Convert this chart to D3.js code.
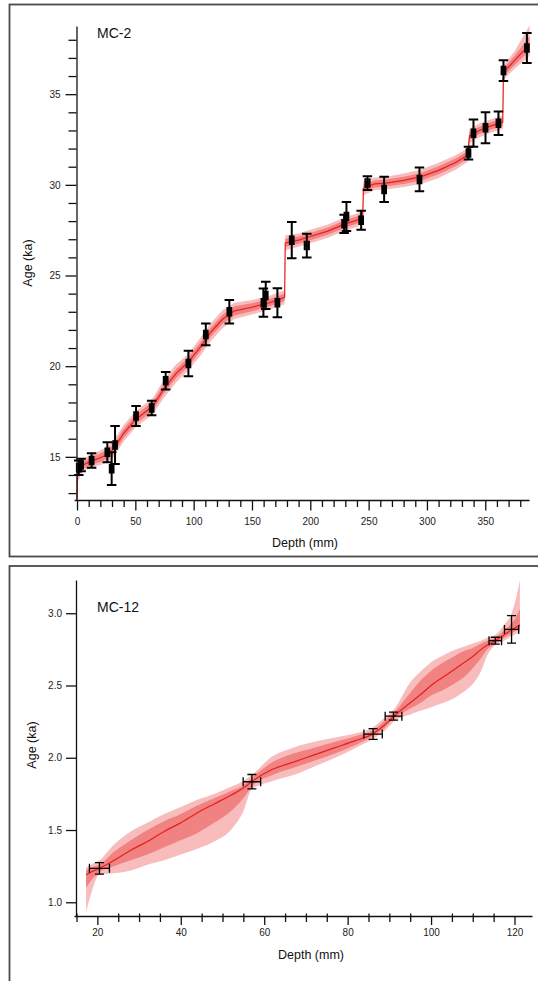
<!DOCTYPE html>
<html>
<head>
<meta charset="utf-8">
<script src="https://cdn.jsdelivr.net/npm/d3@7"></script>
<style>
  body { margin: 0; background: #fff; }
  svg { display: block; font-family: "Liberation Sans", Arial, Helvetica, sans-serif; }
</style>
</head>
<body>
<svg id="chart" width="538" height="981"></svg>
<script>
// --- MC-2 : dated samples ---
const mc2Depth    = [1.5, 3.5, 12.5, 26, 29.7, 32.6, 50.6, 64, 76, 95.5, 110.4, 130.6, 159.8, 161.8, 171.8, 184.1, 197, 229, 231, 243.6, 249, 263.3, 293.6, 335.6, 339.9, 350.2, 361.3, 365.6, 385.7];
const mc2DepthErr = [1.6, 1.6, 1.6, 1.6, 1.6, 1.6, 1.6, 1.6, 1.6, 1.6, 1.6, 1.6, 1.6, 1.6, 1.6, 1.6, 1.8, 1.6, 1.6, 1.6, 1.8, 1.6, 1.6, 1.6, 1.6, 1.6, 1.6, 1.6, 1.6];
const mc2Age      = [14.40, 14.55, 14.80, 15.25, 14.35, 15.65, 17.25, 17.70, 19.20, 20.15, 21.75, 23.00, 23.50, 23.90, 23.50, 26.95, 26.65, 27.85, 28.25, 28.05, 30.10, 29.75, 30.30, 31.75, 32.85, 33.15, 33.40, 36.30, 37.55];
const mc2AgeErr   = [0.40, 0.35, 0.40, 0.55, 0.90, 1.05, 0.55, 0.40, 0.48, 0.70, 0.60, 0.65, 0.78, 0.75, 0.80, 1.00, 0.65, 0.50, 0.80, 0.52, 0.38, 0.70, 0.66, 0.35, 0.75, 0.85, 0.65, 0.57, 0.83];

// --- MC-2 : age-depth model (median + 68% / 95% envelopes) ---
const mc2ModelDepth = [0, 0.5, 5, 12, 20, 27, 32, 40, 50, 58, 65, 75, 85, 95, 105, 115, 125, 135, 150, 165, 178, 178.5, 190, 200, 215, 230, 240, 245, 245.5, 255, 265, 280, 295, 310, 325, 335, 336.5, 345, 355, 365, 365.6, 375, 388];
const mc2Median = [12.65, 14.40, 14.55, 14.75, 14.95, 15.15, 15.50, 16.30, 17.05, 17.45, 17.80, 18.80, 19.60, 20.20, 21.00, 21.90, 22.60, 23.05, 23.25, 23.50, 23.80, 26.80, 26.95, 27.15, 27.45, 27.85, 28.05, 28.30, 29.80, 30.05, 30.10, 30.25, 30.45, 30.80, 31.25, 31.65, 32.70, 33.00, 33.25, 33.45, 36.20, 36.85, 37.75];
const mc2Lo95   = [12.62, 13.60, 14.20, 14.40, 14.55, 14.75, 15.05, 15.85, 16.60, 17.00, 17.35, 18.30, 19.10, 19.75, 20.50, 21.40, 22.10, 22.60, 22.85, 23.12, 23.42, 26.40, 26.58, 26.78, 27.08, 27.48, 27.68, 27.92, 29.42, 29.70, 29.75, 29.88, 30.05, 30.38, 30.85, 31.28, 32.30, 32.62, 32.88, 33.08, 35.80, 36.40, 37.10];
const mc2Lo68   = [12.63, 14.00, 14.35, 14.55, 14.72, 14.92, 15.25, 16.05, 16.80, 17.20, 17.55, 18.55, 19.35, 19.95, 20.75, 21.65, 22.35, 22.80, 23.03, 23.30, 23.60, 26.58, 26.75, 26.95, 27.25, 27.65, 27.85, 28.10, 29.60, 29.86, 29.91, 30.05, 30.24, 30.58, 31.04, 31.45, 32.48, 32.80, 33.05, 33.25, 35.98, 36.60, 37.40];
const mc2Hi68   = [12.70, 14.65, 14.75, 14.95, 15.18, 15.40, 15.75, 16.55, 17.30, 17.70, 18.05, 19.05, 19.85, 20.45, 21.25, 22.15, 22.85, 23.30, 23.47, 23.70, 24.00, 27.02, 27.15, 27.35, 27.65, 28.05, 28.25, 28.50, 30.00, 30.24, 30.29, 30.45, 30.66, 31.02, 31.46, 31.85, 32.92, 33.20, 33.45, 33.65, 36.42, 37.10, 38.20];
const mc2Hi95   = [12.75, 14.85, 14.90, 15.10, 15.35, 15.60, 15.95, 16.75, 17.50, 17.90, 18.25, 19.30, 20.10, 20.65, 21.50, 22.40, 23.10, 23.50, 23.65, 23.88, 24.18, 27.20, 27.32, 27.52, 27.82, 28.22, 28.42, 28.68, 30.18, 30.40, 30.45, 30.62, 30.85, 31.22, 31.65, 32.02, 33.10, 33.38, 33.62, 33.82, 36.60, 37.35, 38.80];

// --- MC-12 : dated samples ---
const mc12Depth    = [20.5, 57.05, 86.1, 91.0, 115.4, 119.3];
const mc12DepthErr = [2.4, 2.1, 2.2, 2.0, 1.5, 1.7];
const mc12Age      = [1.235, 1.834, 2.164, 2.288, 2.81, 2.888];
const mc12AgeErr   = [0.04, 0.05, 0.037, 0.028, 0.024, 0.095];

// --- MC-12 : age-depth model ---
const mc12ModelDepth = [17.3, 18.5, 20.5, 24, 28, 32, 36, 40, 44, 48, 52, 55, 57, 62, 67, 72, 77, 82, 86, 89, 91, 95, 98, 100, 103, 106, 108, 110, 112, 113.5, 115.4, 117.5, 119.3, 120.5, 121.3];
const mc12Median = [1.19, 1.21, 1.235, 1.29, 1.36, 1.42, 1.49, 1.55, 1.62, 1.68, 1.74, 1.79, 1.835, 1.92, 1.97, 2.02, 2.07, 2.12, 2.165, 2.23, 2.285, 2.38, 2.45, 2.50, 2.56, 2.62, 2.66, 2.70, 2.75, 2.78, 2.81, 2.85, 2.885, 2.905, 2.92];
const mc12Lo95   = [0.93, 1.06, 1.19, 1.20, 1.22, 1.26, 1.29, 1.33, 1.37, 1.42, 1.50, 1.63, 1.78, 1.84, 1.88, 1.94, 2.00, 2.07, 2.13, 2.19, 2.25, 2.30, 2.33, 2.35, 2.38, 2.42, 2.46, 2.51, 2.60, 2.71, 2.78, 2.81, 2.84, 2.86, 2.87];
const mc12Lo68   = [1.10, 1.15, 1.21, 1.25, 1.29, 1.33, 1.38, 1.43, 1.48, 1.55, 1.63, 1.72, 1.80, 1.88, 1.93, 1.98, 2.03, 2.09, 2.15, 2.21, 2.27, 2.34, 2.39, 2.43, 2.47, 2.52, 2.56, 2.62, 2.69, 2.75, 2.79, 2.83, 2.86, 2.88, 2.89];
const mc12Hi68   = [1.22, 1.24, 1.26, 1.35, 1.43, 1.50, 1.56, 1.61, 1.67, 1.72, 1.77, 1.81, 1.86, 1.97, 2.03, 2.07, 2.11, 2.15, 2.19, 2.26, 2.31, 2.45, 2.55, 2.60, 2.66, 2.71, 2.74, 2.76, 2.79, 2.81, 2.83, 2.88, 2.93, 2.98, 3.03];
const mc12Hi95   = [1.24, 1.26, 1.29, 1.40, 1.49, 1.55, 1.61, 1.66, 1.71, 1.75, 1.80, 1.84, 1.88, 2.01, 2.07, 2.11, 2.14, 2.17, 2.21, 2.28, 2.33, 2.52, 2.61, 2.66, 2.71, 2.75, 2.77, 2.79, 2.81, 2.83, 2.85, 2.92, 3.00, 3.12, 3.23];

// --- tick values ---
const mc2XMajor = [0, 50, 100, 150, 200, 250, 300, 350];
const mc2XMinor = d3.range(10, 390, 10).filter(v => v % 50 !== 0);
const mc2YMajor = [15, 20, 25, 30, 35];
const mc2YMinor = d3.range(13, 39, 1).filter(v => v % 5 !== 0);
const mc12XMajor = [20, 40, 60, 80, 100, 120];
const mc12XMinor = d3.range(15, 125, 5).filter(v => v % 20 !== 0);
const mc12YMajor = [1.0, 1.5, 2.0, 2.5, 3.0];

const OUTER = "#f8bcbc", INNER = "#f08282", LINE = "#ec1c1c";

const svg = d3.select("#chart");

// panel frames
svg.append("rect").attr("x", 9.5).attr("y", 4.5).attr("width", 540).attr("height", 552)
  .attr("fill", "none").attr("stroke", "#4a4a4a").attr("stroke-width", 1.8);
svg.append("rect").attr("x", 9.5).attr("y", 566).attr("width", 540).attr("height", 430)
  .attr("fill", "none").attr("stroke", "#4a4a4a").attr("stroke-width", 1.8);

function drawPanel(p) {
  const g = svg.append("g");
  const { x, y } = p;
  const rows = p.modelDepth.map((d, i) => ({
    d, m: p.median[i], lo95: p.lo95[i], hi95: p.hi95[i], lo68: p.lo68[i], hi68: p.hi68[i]
  }));

  g.append("path").datum(rows).attr("fill", OUTER)
    .attr("d", d3.area().curve(p.curve).x(r => x(r.d)).y0(r => y(r.lo95)).y1(r => y(r.hi95)));
  g.append("path").datum(rows).attr("fill", INNER)
    .attr("d", d3.area().curve(p.curve).x(r => x(r.d)).y0(r => y(r.lo68)).y1(r => y(r.hi68)));
  g.append("path").datum(rows).attr("fill", "none").attr("stroke", LINE).attr("stroke-width", 1.2)
    .attr("d", d3.line().curve(p.curve).x(r => x(r.d)).y(r => y(r.m)));

  // error bars (age and depth, capped)
  const pts = p.depth.map((d, i) => ({ d, de: p.depthErr[i], a: p.age[i], ae: p.ageErr[i] }));
  const eb = g.append("g").attr("stroke", "#000").attr("stroke-width", p.ebWidth).attr("fill", "none");
  const cap = p.cap;
  pts.forEach(q => {
    const cx = x(q.d), cy = y(q.a);
    const x0 = x(q.d - q.de), x1 = x(q.d + q.de);
    const y0 = y(q.a - q.ae), y1 = y(q.a + q.ae);
    eb.append("path").attr("d",
      `M${cx},${y0}V${y1}` +
      `M${cx - cap / 2},${y0}H${cx + cap / 2}M${cx - cap / 2},${y1}H${cx + cap / 2}` +
      `M${x0},${cy}H${x1}` +
      `M${x0},${cy - cap / 2}V${cy + cap / 2}M${x1},${cy - cap / 2}V${cy + cap / 2}`);
  });

  // axes
  const xAxisY = y.range()[0];
  g.append("g").attr("transform", `translate(0,${xAxisY})`)
    .call(d3.axisBottom(x).tickValues(p.xMajor).tickSize(p.xMajorLen).tickSizeOuter(0).tickPadding(p.xPad));
  const xm = g.append("g").attr("transform", `translate(0,${xAxisY})`)
    .call(d3.axisBottom(x).tickValues(p.xMinor).tickSize(p.xMinorLen).tickFormat(""));
  xm.select(".domain").remove();
  if (p.xMinorUp) xm.selectAll(".tick line").attr("y1", -p.xMinorUp);

  g.append("g").attr("transform", `translate(${p.yAxisX},0)`)
    .call(d3.axisLeft(y).tickValues(p.yMajor).tickSize(p.yMajorLen).tickSizeOuter(0).tickPadding(p.yPad).tickFormat(p.yFormat));
  if (p.yMinor) {
    const ym = g.append("g").attr("transform", `translate(${p.yAxisX},0)`)
      .call(d3.axisLeft(y).tickValues(p.yMinor).tickSize(p.yMinorLen).tickFormat(""));
    ym.select(".domain").remove();
  }
  g.selectAll(".domain, .tick line").attr("stroke", "#111").attr("stroke-width", 1.3);
  g.selectAll(".tick text").attr("font-size", 10).attr("fill", "#222")
    .attr("font-family", "'Liberation Sans', Arial, sans-serif");

  // labels
  g.append("text").attr("x", p.xTitle[0]).attr("y", p.xTitle[1]).attr("text-anchor", "middle")
    .attr("font-size", 12.5).attr("fill", "#111").text("Depth (mm)");
  g.append("text").attr("transform", `translate(${p.yTitle[0]},${p.yTitle[1]}) rotate(-90)`)
    .attr("text-anchor", "middle").attr("font-size", 12.5).attr("fill", "#111").text("Age (ka)");
  g.append("text").attr("x", 97).attr("y", p.nameY).attr("font-size", 14).attr("fill", "#111").text(p.name);
}

drawPanel({
  name: "MC-2", nameY: 38,
  x: d3.scaleLinear().domain([-2.5, 387.5]).range([74.1, 529]),
  y: d3.scaleLinear().domain([12.62, 38.76]).range([500, 26]),
  modelDepth: mc2ModelDepth, median: mc2Median, lo95: mc2Lo95, hi95: mc2Hi95, lo68: mc2Lo68, hi68: mc2Hi68,
  depth: mc2Depth, depthErr: mc2DepthErr, age: mc2Age, ageErr: mc2AgeErr,
  curve: d3.curveLinear, ebWidth: 2, cap: 9.5,
  xMajor: mc2XMajor, xMinor: mc2XMinor, xMajorLen: 10.5, xMinorLen: 7, xPad: 7, xMinorUp: 0,
  yMajor: mc2YMajor, yMinor: mc2YMinor, yMajorLen: 11, yMinorLen: 8, yPad: 5, yAxisX: 76.5,
  yFormat: d3.format("d"),
  xTitle: [305, 547], yTitle: [32, 263]
});

drawPanel({
  name: "MC-12", nameY: 612,
  x: d3.scaleLinear().domain([14.4, 124.2]).range([74, 532]),
  y: d3.scaleLinear().domain([0.905, 3.23]).range([916, 580]),
  modelDepth: mc12ModelDepth, median: mc12Median, lo95: mc12Lo95, hi95: mc12Hi95, lo68: mc12Lo68, hi68: mc12Hi68,
  depth: mc12Depth, depthErr: mc12DepthErr, age: mc12Age, ageErr: mc12AgeErr,
  curve: d3.curveMonotoneX, ebWidth: 1.3, cap: 9,
  xMajor: mc12XMajor, xMinor: mc12XMinor, xMajorLen: 9, xMinorLen: 6, xPad: 3.5, xMinorUp: 2.5,
  yMajor: mc12YMajor, yMinor: null, yMajorLen: 10, yPad: 4, yAxisX: 76,
  yFormat: d3.format(".1f"),
  xTitle: [311, 959], yTitle: [36, 745]
});
</script>
</body>
</html>
